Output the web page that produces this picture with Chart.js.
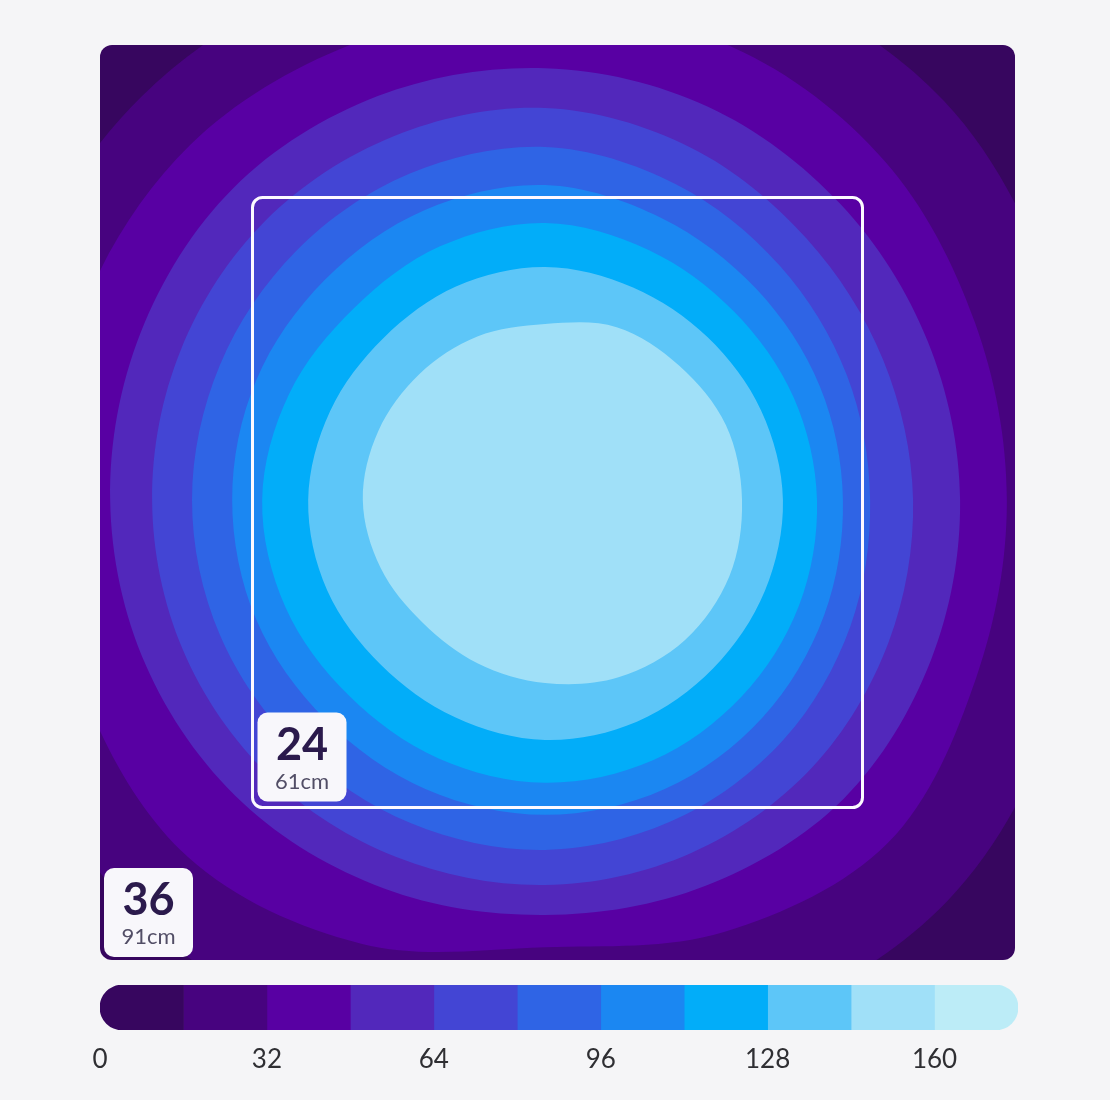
<!DOCTYPE html>
<html>
<head>
<meta charset="utf-8">
<title>PPFD footprint</title>
<script src="https://cdn.jsdelivr.net/npm/chart.js@4.4.1/dist/chart.umd.min.js"></script>
<style>
  body { margin: 0; background: #f5f5f7; }
  #wrap { position: relative; width: 1110px; height: 1100px; }
  #map { position: absolute; left: 0; top: 0; }
  #scale { position: absolute; left: 0; top: 970px; }
</style>
</head>
<body>
<div id="wrap">
  <canvas id="map" width="1110" height="975"></canvas>
  <canvas id="scale" width="1110" height="130"></canvas>
</div>
<script>
// PPFD colour steps, one colour per 16-unit band
const bandEdges = [0, 16, 32, 48, 64, 80, 96, 112, 128, 144, 160, 176];
const bandColors = ['#37065f', '#47037f', '#5800a3', '#5228bb', '#4345d4', '#2f64e5',
                    '#1b87f2', '#02adf9', '#5dc6f8', '#a0e0f8', '#bcecf7'];
const scaleTicks = [0, 32, 64, 96, 128, 160];

// footprint squares (inches) and their metric labels
const mapSize = 36;
const footprintSizes = [24, 36];
const footprintMetric = ['61cm', '91cm'];

// contour lines: distance (in) from the hot spot at each bearing
const hotSpot = [17.51, 18.10];
const bearings = [0, 22.5, 45, 67.5, 90, 112.5, 135, 157.5, 180, 202.5, 225, 247.5, 270, 292.5, 315, 337.5];
const contour16 = [21.3, 21.6, 22.2, 22.1, 21.7, 22.2, 22.45, 22.3, 21.6, 22.3, 22.9, 22.4, 21.5, 22.1, 22.35, 21.8];
const contour32 = [18.17, 18.30, 18.88, 19.28, 19.30, 19.47, 19.75, 19.67, 19.47, 19.67, 19.87, 18.9, 17.6, 18.4, 19.08, 18.35];
const contour48 = [16.33, 16.30, 16.45, 16.75, 16.99, 17.20, 17.35, 17.22, 17.11, 17.00, 16.84, 16.55, 16.33, 16.44, 16.62, 16.44];
const contour64 = [14.48, 14.40, 14.55, 15.00, 15.42, 15.50, 15.55, 15.50, 15.46, 15.42, 15.34, 15.22, 15.15, 15.03, 14.87, 14.63];
const contour80 = [12.79, 12.85, 13.05, 13.45, 13.89, 13.90, 13.85, 13.85, 13.89, 13.85, 13.77, 13.77, 13.77, 13.57, 13.30, 13.00];
const contour96 = [11.72, 11.70, 11.75, 12.00, 12.39, 12.35, 12.25, 12.30, 12.31, 12.30, 12.22, 12.31, 12.39, 12.31, 12.10, 11.88];
const contour112 = [10.70, 10.58, 10.50, 10.65, 10.90, 10.80, 10.65, 10.90, 11.13, 11.05, 10.90, 11.00, 11.13, 11.09, 10.94, 10.82];
const contour128 = [9.36, 9.20, 9.05, 9.05, 9.17, 9.10, 9.00, 9.15, 9.32, 9.28, 9.15, 9.25, 9.44, 9.44, 9.36, 9.36];
const contour144 = [7.75, 7.70, 7.47, 7.36, 6.92, 6.96, 7.00, 7.10, 7.17, 7.00, 6.82, 6.95, 7.20, 7.55, 7.79, 7.85];

const contours = [contour16, contour32, contour48, contour64, contour80, contour96, contour112, contour128, contour144];
const contourLevels = bandEdges.slice(1, 1 + contours.length);

const roundedRect = (ctx, x, y, w, h, r) => {
  ctx.beginPath();
  ctx.moveTo(x + r, y);
  ctx.arcTo(x + w, y, x + w, y + h, r);
  ctx.arcTo(x + w, y + h, x, y + h, r);
  ctx.arcTo(x, y + h, x, y, r);
  ctx.arcTo(x, y, x + w, y, r);
  ctx.closePath();
};

const drawBadge = (ctx, left, bottom, size, metric) => {
  const w = 89, top = bottom - w, cx = left + w / 2;
  roundedRect(ctx, left, top, w, w, 10);
  ctx.fillStyle = '#f8f7fb';
  ctx.fill();
  ctx.textAlign = 'center';
  ctx.textBaseline = 'alphabetic';
  ctx.fillStyle = '#2b1a4c';
  ctx.font = 'bold 45px Lato';
  ctx.fillText(String(size), cx, top + 47);
  ctx.fillStyle = '#524e66';
  ctx.font = '22px Lato';
  ctx.fillText(metric, cx, top + 76);
};

// contour polygons, innermost drawn last
const mapDatasets = contours.map((radii, i) => {
  const pts = radii.map((r, k) => {
    const a = bearings[k] * Math.PI / 180;
    return { x: hotSpot[0] + r * Math.cos(a), y: hotSpot[1] + r * Math.sin(a) };
  });
  const n = pts.length;
  return {
    label: 'PPFD ≥ ' + contourLevels[i],
    // wrap a point on each side so the closing stretch is smooth too
    data: [pts[n - 1]].concat(pts, [pts[0], pts[1]]),
    backgroundColor: bandColors[i + 1],
    borderColor: 'rgba(0,0,0,0)',
    borderWidth: 0,
    pointRadius: 0,
    fill: 'shape',
    tension: 0.34,
    order: contours.length - i
  };
});

const mapFrame = {
  id: 'mapFrame',
  beforeDatasetsDraw(chart) {
    const { ctx, chartArea: a } = chart;
    ctx.save();
    roundedRect(ctx, a.left, a.top, a.width, a.height, 12);
    ctx.fillStyle = bandColors[0];
    ctx.fill();
    ctx.clip();
  },
  afterDatasetsDraw(chart) {
    const { ctx, scales: { x, y } } = chart;
    ctx.restore();
    ctx.save();
    // inner 24" footprint
    const mid = mapSize / 2, half = footprintSizes[0] / 2;
    const l = x.getPixelForValue(mid - half), r = x.getPixelForValue(mid + half);
    const t = y.getPixelForValue(mid + half), b = y.getPixelForValue(mid - half);
    roundedRect(ctx, l, t, r - l, b - t, 10);
    ctx.strokeStyle = '#fcf9ff';
    ctx.lineWidth = 3;
    ctx.stroke();
    drawBadge(ctx, l + 5, b - 6, footprintSizes[0], footprintMetric[0]);
    drawBadge(ctx, x.getPixelForValue(0) + 4, y.getPixelForValue(0) - 3, footprintSizes[1], footprintMetric[1]);
    ctx.restore();
  }
};

new Chart(document.getElementById('map'), {
  type: 'line',
  data: { datasets: mapDatasets },
  options: {
    responsive: false,
    animation: false,
    events: [],
    layout: { padding: { left: 100, right: 95, top: 45, bottom: 15 } },
    plugins: { legend: { display: false }, tooltip: { enabled: false } },
    scales: {
      x: { type: 'linear', min: 0, max: mapSize, display: false },
      y: { type: 'linear', min: 0, max: mapSize, display: false }
    }
  },
  plugins: [mapFrame]
});

// colour key
const last = bandColors.length - 1;
new Chart(document.getElementById('scale'), {
  type: 'bar',
  data: {
    labels: ['PPFD'],
    datasets: bandColors.map((c, i) => ({
      data: [bandEdges[i + 1] - bandEdges[i]],
      backgroundColor: c,
      borderSkipped: false,
      borderRadius: i === 0 ? { topLeft: 23, bottomLeft: 23, topRight: 0, bottomRight: 0 }
        : i === last ? { topLeft: 0, bottomLeft: 0, topRight: 23, bottomRight: 23 } : 0,
      barPercentage: 1,
      categoryPercentage: 1
    }))
  },
  options: {
    indexAxis: 'y',
    responsive: false,
    animation: false,
    events: [],
    layout: { padding: { left: 100, right: 92, top: 15, bottom: 25 } },
    plugins: { legend: { display: false }, tooltip: { enabled: false } },
    scales: {
      x: {
        stacked: true,
        min: 0,
        max: bandEdges[bandEdges.length - 1],
        grid: { display: false, drawTicks: false },
        border: { display: false },
        afterBuildTicks: axis => { axis.ticks = scaleTicks.map(v => ({ value: v })); },
        ticks: { color: '#2f2f33', font: { family: 'Lato', size: 26 }, padding: 14, maxRotation: 0, autoSkip: false }
      },
      y: { stacked: true, display: false }
    }
  }
});
</script>
</body>
</html>
